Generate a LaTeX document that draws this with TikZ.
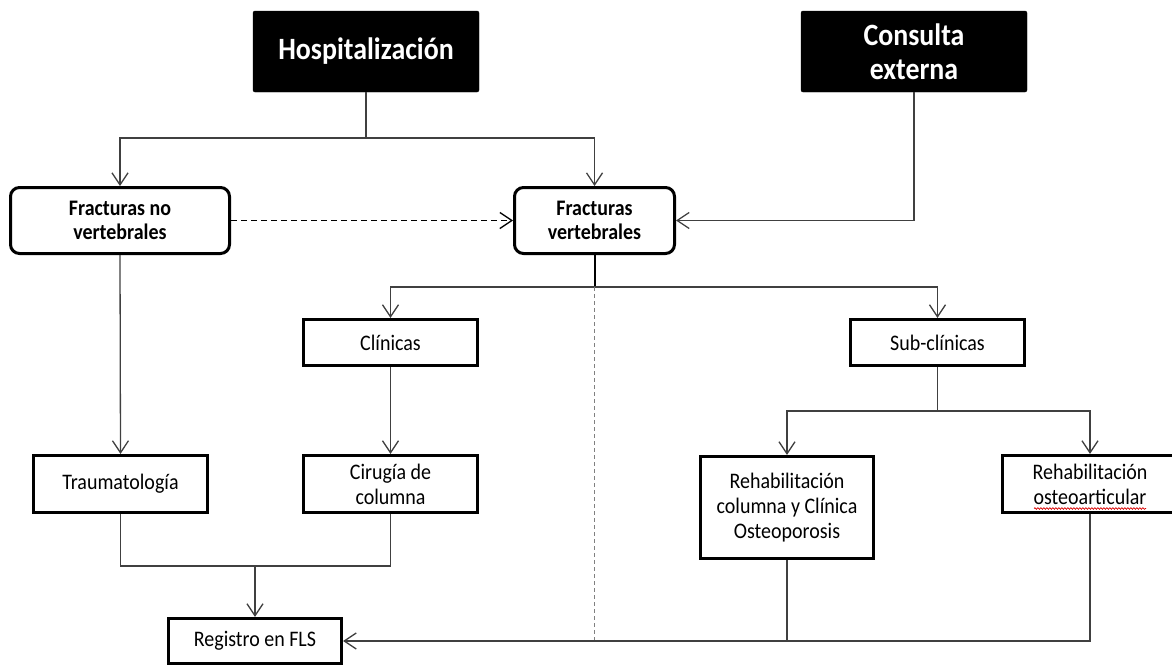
\documentclass[tikz,border=0pt]{standalone}
\usepackage{fontspec}
\setmainfont{Carlito}[FakeStretch=0.9]
\usetikzlibrary{arrows.meta,calc,decorations.pathmorphing}
\begin{document}
\begin{tikzpicture}[x=1pt,y=-1pt,
  blackbox/.style={draw=black, fill=black, text=white, font=\fontsize{31}{33.6}\selectfont\bfseries, rounded corners=2pt, align=center, inner sep=0pt, minimum width=226pt, minimum height=81pt},
  roundbox/.style={draw=black, line width=3pt, rounded corners=9pt, font=\fontsize{22.2}{24}\selectfont\bfseries, align=center, inner sep=0pt, minimum height=66pt},
  sqbox/.style={draw=black, line width=3.2pt, font=\fontsize{22.2}{25}\selectfont, align=center, inner sep=0pt},
  conn/.style={draw=black!75, line width=1.3pt},
  arr/.style={conn, -{Straight Barb[length=12pt,width=16pt]}},
]
\useasboundingbox (0,0) rectangle (1172,664);

\node[blackbox] (hosp) at (366,51.5) {Hospitalización};
\node[blackbox] (cons) at (914,51.5) {Consulta\\externa};
\node[roundbox, minimum width=219pt] (fnv) at (120,220.5) {Fracturas no\\vertebrales};
\node[roundbox, minimum width=160pt] (fv) at (594.5,220.5) {Fracturas\\vertebrales};
\node[sqbox, minimum width=174pt, minimum height=46pt] (clin) at (390.5,342.5) {Clínicas};
\node[sqbox, minimum width=174pt, minimum height=46pt] (sub) at (937.5,342.5) {Sub-clínicas};
\node[sqbox, minimum width=174pt, minimum height=57pt] (trau) at (120.5,484) {Traumatología};
\node[sqbox, minimum width=174pt, minimum height=57pt] (cir) at (390.5,484) {Cirugía de\\columna};
\node[sqbox, minimum width=173pt, minimum height=45pt] (reg) at (255,641) {Registro en FLS};
\node[sqbox, minimum width=173pt, minimum height=102pt] (rcol) at (787,507.5) {Rehabilitación\\columna y Clínica\\Osteoporosis};
\node[sqbox, minimum width=175pt, minimum height=57pt] (rost) at (1090,484) {Rehabilitación\\osteoarticular};

\draw[red!85!black, line width=0.7pt, decorate, decoration={snake, amplitude=0.8pt, segment length=3pt}]
  ($(rost.center)+(-56,24.5)$) -- ($(rost.center)+(56,24.5)$);

\coordinate (hsplit) at (366,138);
\draw[conn] (hosp.south) -- (hsplit);
\draw[arr] (hsplit) -| (fnv.north);
\draw[arr] (hsplit) -| (fv.north);
\draw[arr, draw=black, dash pattern=on 6pt off 4pt] (fnv.east) -- (fv.west);
\draw[arr] (cons.south) |- (fv.east);

\coordinate (vsplit) at (594.5,287);
\draw[black, line width=2pt] (fv.south) -- (vsplit);
\draw[arr] (vsplit) -| (clin.north);
\draw[arr] (vsplit) -| (sub.north);
\draw[black!50, line width=1.3pt, dash pattern=on 4pt off 3pt] (vsplit) -- (vsplit |- reg.east);

\draw[arr] (fnv.south) -- (trau.north);
\draw[arr] (clin.south) -- (cir.north);
\coordinate (lmerge) at (255,566);
\draw[conn] (trau.south) |- (lmerge) -| (cir.south);
\draw[arr] (lmerge) -- (reg.north);

\coordinate (ssplit) at (937.5,411);
\draw[conn] (sub.south) -- (ssplit);
\draw[arr] (ssplit) -| (rcol.north);
\draw[arr] (ssplit) -| (rost.north);
\draw[arr] (rost.south) |- (reg.east);
\draw[conn] (rcol.south) -- (rcol.south |- reg.east);
\end{tikzpicture}
\end{document}
